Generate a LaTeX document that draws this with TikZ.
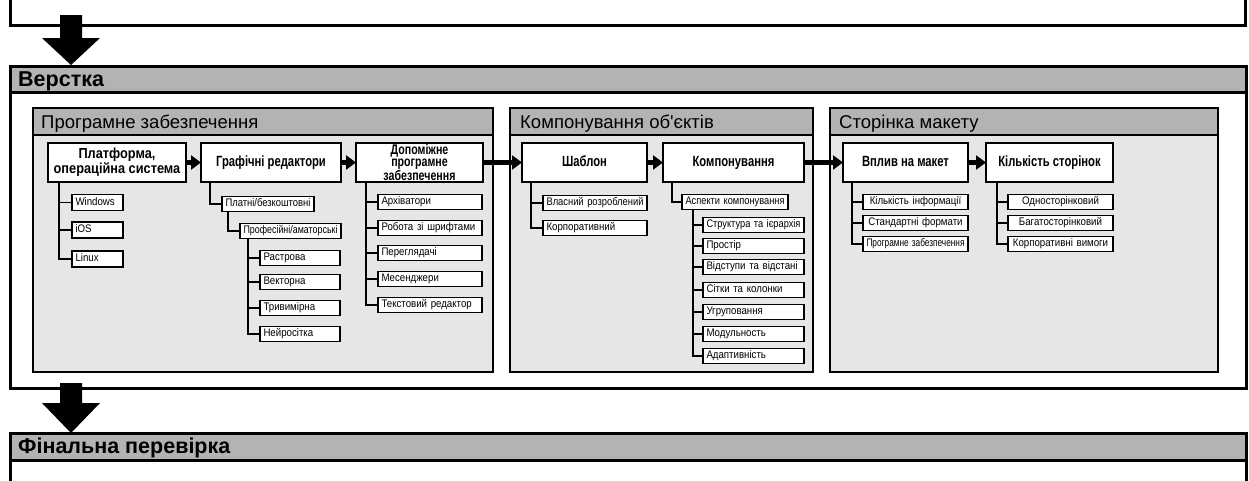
\documentclass[tikz,border=0pt]{standalone}
\usepackage{fontspec}
\setmainfont{Liberation Sans}
\newfontfamily\narrowfam{Liberation Sans}[FakeStretch=0.76]
\newfontfamily\platfam{Liberation Sans}[FakeStretch=0.88]
\newfontfamily\leaffam{Liberation Sans}[FakeStretch=0.88]
\newfontfamily\straightfam{Liberation Sans}[Ligatures=TeXOff]
\usetikzlibrary{arrows.meta}
\definecolor{bandgray}{HTML}{B3B3B3}
\definecolor{panelgray}{HTML}{E6E6E6}
% squeeze a label horizontally when it is wider than its box
\newsavebox\leafbox
\newcommand\fw[2]{\sbox\leafbox{#2}\ifdim\wd\leafbox>#1pt\resizebox{#1pt}{\height}{\usebox\leafbox}\else\usebox\leafbox\fi}
\begin{document}
\begin{tikzpicture}[x=1pt,y=-1pt,
  frame/.style={draw=black, line width=3pt},
  panel/.style={draw=black, line width=2.5pt},
  maintitle/.style={anchor=base west, inner sep=0pt, font=\bfseries\fontsize{21.5}{23}\selectfont},
  paneltitle/.style={anchor=base west, inner sep=0pt, font=\fontsize{18.5}{20}\selectfont},
  mainbox/.style={draw=black, fill=white, line width=2.6pt, outer sep=0pt, minimum height=39pt, inner sep=1pt, align=center, font=\narrowfam\bfseries\fontsize{14.8}{15}\selectfont},
  oneline/.style={mainbox, text height=10.5pt, text depth=2.5pt},
  leaf/.style={draw=black, fill=white, line width=1.8pt, outer sep=0pt, inner xsep=3.5pt, inner ysep=0pt, minimum height=15pt, anchor=west, text width=#1, text height=8pt, text depth=2.2pt, align=left, font=\leaffam\fontsize{11}{12}\selectfont},
  leafc/.style={leaf=#1, align=center},
  flow/.style={line width=5pt, -{Triangle[length=10pt,width=14pt]}},
  tree/.style={line width=1.8pt, sharp corners},
]
\useasboundingbox (0,0) rectangle (1249,480);
\clip (0,0) rectangle (1249,480);

% previous stage (frame cut by the top edge)
\draw[frame] (10,-5) |- (1245,25) -- (1245,-5);

% stage: Верстка
\draw[frame, fill=white] (10,66) rectangle (1246,388);
\draw[frame, fill=bandgray] (10,66) rectangle (1246,92);
\node[maintitle] (verstka) at (18,86) {Верстка};

% block arrows between stages
\fill (60,15) -- (82,15) -- (82,38) -- (100,38) -- (71,65) -- (42,38) -- (60,38) -- cycle;
\fill (60,383) -- (82,383) -- (82,403) -- (100,403) -- (71,433) -- (42,403) -- (60,403) -- cycle;

% stage: Фінальна перевірка
\draw[frame, fill=white] (10,433) rectangle (1246,500);
\draw[frame, fill=bandgray] (10,433) rectangle (1246,460);
\node[maintitle] (final) at (18,453) {Фінальна перевірка};

% panels
\draw[panel, fill=panelgray] (33,108) rectangle (493,372);
\draw[panel, fill=bandgray] (33,108) rectangle (493,135);
\node[paneltitle] (t1) at (41,128) {Програмне забезпечення};

\draw[panel, fill=panelgray] (510,108) rectangle (813,372);
\draw[panel, fill=bandgray] (510,108) rectangle (813,135);
\node[paneltitle] (t2) at (520,128) {Компонування об{\straightfam'}єктів};

\draw[panel, fill=panelgray] (830,108) rectangle (1218,372);
\draw[panel, fill=bandgray] (830,108) rectangle (1218,135);
\node[paneltitle] (t3) at (839,128) {Сторінка макету};

% main steps
\node[mainbox, minimum width=138pt, font=\platfam\bfseries\fontsize{14.5}{15}\selectfont] (plat) at (117,162.5) {Платформа,\\операційна система};
\node[oneline, minimum width=140pt] (graf) at (271,162.5) {Графічні редактори};
\node[mainbox, minimum width=127pt, font=\narrowfam\bfseries\fontsize{14}{12.3}\selectfont] (dop) at (419.5,162.5) {Допоміжне\\програмне\\забезпечення};
\node[oneline, minimum width=125pt] (shab) at (584.5,162.5) {Шаблон};
\node[oneline, minimum width=141pt] (komp) at (733.5,162.5) {Компонування};
\node[oneline, minimum width=125pt] (vplyv) at (905.5,162.5) {Вплив на макет};
\node[oneline, minimum width=127pt] (kilk) at (1049.5,162.5) {Кількість сторінок};

\draw[flow] (plat.east) -- (graf.west);
\draw[flow] (graf.east) -- (dop.west);
\draw[flow] (dop.east) -- (shab.west);
\draw[flow] (shab.east) -- (komp.west);
\draw[flow] (komp.east) -- (vplyv.west);
\draw[flow] (vplyv.east) -- (kilk.west);

% platform
\node[leaf=44pt, minimum height=16pt] (win) at (72,202.5) {\fw{44}{Windows}};
\node[leaf=44pt, minimum height=16pt] (ios) at (72,230) {\fw{44}{iOS}};
\node[leaf=44pt, minimum height=16pt] (lin) at (72,259) {\fw{44}{Linux}};
\foreach \c in {win,ios,lin} \draw[tree] ([xshift=11pt]plat.south west) |- (\c.west);

% graphic editors
\node[leaf=85pt] (platni) at (222,204) {\fw{85}{Платні/безкоштовні}};
\node[leaf=94pt] (prof) at (240,231) {\fw{94}{Професійні/аматорські}};
\node[leaf=73pt] (rast) at (260,258) {\fw{73}{Растрова}};
\node[leaf=73pt] (vekt) at (260,282) {\fw{73}{Векторна}};
\node[leaf=73pt] (tryv) at (260,308) {\fw{73}{Тривимірна}};
\node[leaf=73pt] (neur) at (260,334) {\fw{73}{Нейросітка}};
\draw[tree] ([xshift=9pt]graf.south west) |- (platni.west);
\draw[tree] ([xshift=6pt]platni.south west) |- (prof.west);
\foreach \c in {rast,vekt,tryv,neur} \draw[tree] ([xshift=8pt]prof.south west) |- (\c.west);

% auxiliary software
\node[leaf=97pt] (arch) at (378,202) {\fw{97}{Архіватори}};
\node[leaf=97pt] (shryft) at (378,228) {\fw{97}{Робота зі шрифтами}};
\node[leaf=97pt] (perehl) at (378,253) {\fw{97}{Переглядачі}};
\node[leaf=97pt] (mes) at (378,279) {\fw{97}{Месенджери}};
\node[leaf=97pt] (tekst) at (378,305) {\fw{97}{Текстовий редактор}};
\foreach \c in {arch,shryft,perehl,mes,tekst} \draw[tree] ([xshift=10pt]dop.south west) |- (\c.west);

% template
\node[leaf=97pt] (vlasn) at (543,203) {\fw{97}{Власний розроблений}};
\node[leaf=97pt] (korp) at (543,228) {\fw{97}{Корпоративний}};
\foreach \c in {vlasn,korp} \draw[tree] ([xshift=9pt]shab.south west) |- (\c.west);

% layout
\node[leaf=99pt] (aspekt) at (682,202) {\fw{99}{Аспекти компонування}};
\draw[tree] ([xshift=9pt]komp.south west) |- (aspekt.west);
\node[leaf=94pt] (struk) at (703,225) {\fw{94}{Структура та ієрархія}};
\node[leaf=94pt] (prost) at (703,246) {\fw{94}{Простір}};
\node[leaf=94pt] (vidst) at (703,267) {\fw{94}{Відступи та відстані}};
\node[leaf=94pt] (sitky) at (703,290) {\fw{94}{Сітки та колонки}};
\node[leaf=94pt] (hrup) at (703,312) {\fw{94}{Угруповання}};
\node[leaf=94pt] (modul) at (703,334) {\fw{94}{Модульность}};
\node[leaf=94pt] (adapt) at (703,356) {\fw{94}{Адаптивність}};
\foreach \c in {struk,prost,vidst,sitky,hrup,modul,adapt} \draw[tree] ([xshift=11pt]aspekt.south west) |- (\c.west);

% page layout
\node[leafc=98pt] (info) at (863,202) {\fw{98}{Кількість інформації}};
\node[leafc=98pt] (form) at (863,223) {\fw{98}{Стандартні формати}};
\node[leafc=98pt] (prog) at (863,244) {\fw{98}{Програмне забезпечення}};
\foreach \c in {info,form,prog} \draw[tree] ([xshift=9pt]vplyv.south west) |- (\c.west);

\node[leafc=98pt] (odno) at (1008,202) {\fw{98}{Односторінковий}};
\node[leafc=98pt] (baga) at (1008,223) {\fw{98}{Багатосторінковий}};
\node[leafc=98pt] (korpv) at (1008,244) {\fw{98}{Корпоративні вимоги}};
\foreach \c in {odno,baga,korpv} \draw[tree] ([xshift=11pt]kilk.south west) |- (\c.west);
\end{tikzpicture}
\end{document}
